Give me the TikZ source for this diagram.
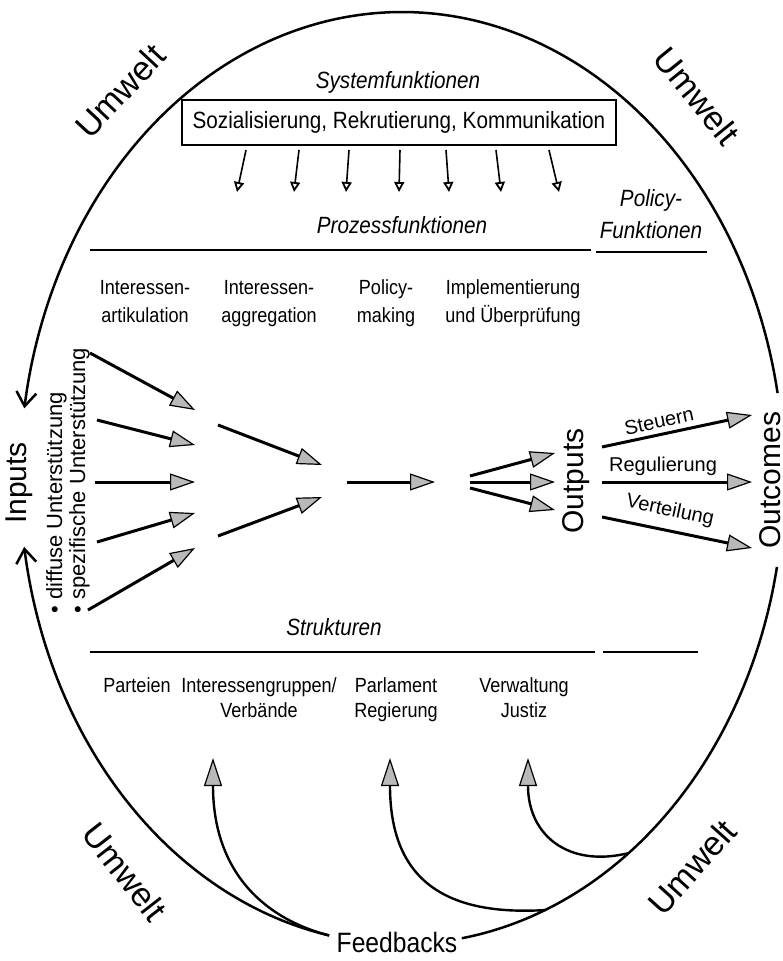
\documentclass[tikz,border=0pt]{standalone}
\usepackage{fontspec}
\setmainfont{Liberation Sans}
\newfontfamily\cond[FakeStretch=0.88]{Liberation Sans}
\usetikzlibrary{arrows.meta}
\begin{document}
\begin{tikzpicture}[x=1pt,y=-1pt,
  oval/.style={line width=2.5pt},
  fatarr/.style={line width=3pt,-{Triangle[length=25pt,width=17pt,fill=gray!55,line width=1.2pt]}},
  fbarr/.style={line width=2.4pt,-{Triangle[length=28pt,width=18pt,fill=gray!55,line width=1.2pt]}},
  smallarr/.style={line width=1.6pt,-{Triangle[open,length=10pt,width=10pt,line width=1.8pt]}},
  rule/.style={line width=1.8pt},
  big/.style={font=\fontsize{34}{36}\selectfont},
  lab/.style={font=\fontsize{30}{32}\selectfont},
  ital/.style={font=\cond\itshape\fontsize{23.5}{32}\selectfont},
  head/.style={font=\cond\fontsize{20.5}{28}\selectfont,align=center,anchor=base},
  struct/.style={font=\cond\fontsize{20.5}{25}\selectfont,align=center,anchor=base},
  flow/.style={font=\fontsize{20}{22}\selectfont},
]
\useasboundingbox (0,0) rectangle (783,961);

% ---- oval (environment boundary) ----
\draw[oval,-{Straight Barb[length=14pt,width=20pt]}] plot[domain=10.5:171.4,samples=90,smooth] ({402+382*cos(\x)},{478-466*sin(\x)});
\draw[oval,{Straight Barb[length=14pt,width=20pt]}-] plot[domain=188.5:259,samples=50,smooth] ({402+382*cos(\x)},{478-466*sin(\x)});
\draw[oval] plot[domain=-81:-11,samples=50,smooth] ({402+382*cos(\x)},{478-466*sin(\x)});

% ---- Umwelt labels ----
\node[big,rotate=47] (u1) at (120,91) {Umwelt};
\node[big,rotate=-51] (u2) at (697,96) {Umwelt};
\node[big,rotate=-52] (u3) at (125,872) {Umwelt};
\node[big,rotate=48] (u4) at (692,867) {Umwelt};

% ---- system functions ----
\node[ital] (sysf) at (398,82) {Systemfunktionen};
\node[draw,line width=1.8pt,minimum width=434pt,minimum height=45pt,inner sep=0pt,
      font=\cond\fontsize{23.5}{26}\selectfont] (box) at (399,122.5) {Sozialisierung, Rekrutierung, Kommunikation};

\coordinate (s1a) at (246,150); \coordinate (s1b) at (237,192);
\coordinate (s2a) at (299,150); \coordinate (s2b) at (294,192);
\coordinate (s3a) at (349,150); \coordinate (s3b) at (346,192);
\coordinate (s4a) at (400,150); \coordinate (s4b) at (399,192);
\coordinate (s5a) at (446,150); \coordinate (s5b) at (449,192);
\coordinate (s6a) at (496,150); \coordinate (s6b) at (501,192);
\coordinate (s7a) at (549,150); \coordinate (s7b) at (559,192);
\foreach \i in {1,...,7} {\draw[smallarr] (s\i a) -- (s\i b);}

\node[ital] (proz) at (402,225) {Prozessfunktionen};
\node[ital,align=center] (polf) at (651,214) {Policy-\\Funktionen};
\draw[rule] (90,250) -- (591,250);
\draw[rule] (596,252) -- (707,252);

\node[head] (h1) at (145,322) {Interessen-\\artikulation};
\node[head] (h2) at (269,322) {Interessen-\\aggregation};
\node[head] (h3) at (386,322) {Policy-\\making};
\node[head] (h4) at (513,322) {Implementierung\\und Überprüfung};

% ---- inputs ----
\node[lab,rotate=90] (inputs) at (19,483) {Inputs};
\node[font=\fontsize{22}{24}\selectfont,rotate=90,anchor=base west] (diff) at (62,617) {\textbullet\ diffuse Unterstützung};
\node[font=\fontsize{22}{24}\selectfont,rotate=90,anchor=base west] (spez) at (85,617) {\textbullet\ spezifische Unterstützung};

\coordinate (i1a) at (90,353);  \coordinate (i1b) at (195,410);
\coordinate (i2a) at (97,420);  \coordinate (i2b) at (195,445);
\coordinate (i3a) at (95,482);  \coordinate (i3b) at (195,482);
\coordinate (i4a) at (97,542);  \coordinate (i4b) at (195,513);
\coordinate (i5a) at (88,610);  \coordinate (i5b) at (195,548);
\foreach \i in {1,...,5} {\draw[fatarr] (i\i a) -- (i\i b);}

\coordinate (g1a) at (218,425); \coordinate (g1b) at (322,465);
\coordinate (g2a) at (218,536); \coordinate (g2b) at (322,497);
\draw[fatarr] (g1a) -- (g1b);
\draw[fatarr] (g2a) -- (g2b);

\coordinate (pma) at (347,482); \coordinate (pmb) at (435,482);
\draw[fatarr] (pma) -- (pmb);

\coordinate (f1a) at (470,476); \coordinate (f1b) at (555,453);
\coordinate (f2a) at (470,482); \coordinate (f2b) at (555,482);
\coordinate (f3a) at (470,488); \coordinate (f3b) at (555,510);
\draw[fatarr] (f1a) -- (f1b);
\draw[fatarr] (f2a) -- (f2b);
\draw[fatarr] (f3a) -- (f3b);

\node[lab,rotate=90] (outputs) at (576,481) {Outputs};
\node[lab,rotate=90] (outcomes) at (770,480) {Outcomes};

\coordinate (o1a) at (602,447); \coordinate (o1b) at (752,415);
\coordinate (o2a) at (602,482); \coordinate (o2b) at (752,482);
\coordinate (o3a) at (602,517); \coordinate (o3b) at (752,548);
\draw[fatarr] (o1a) -- (o1b);
\draw[fatarr] (o2a) -- (o2b);
\draw[fatarr] (o3a) -- (o3b);
\node[flow,rotate=12] (steu) at (659,421) {Steuern};
\node[flow] (reg) at (663,466) {Regulierung};
\node[flow,rotate=-12] (vert) at (670,511) {Verteilung};

% ---- structures ----
\node[ital] (strk) at (334,627) {Strukturen};
\draw[rule] (90,652) -- (595,652);
\draw[rule] (603,652) -- (698,652);
\node[struct] (p1) at (137,692) {Parteien};
\node[struct] (p2) at (259,717) {Interessengruppen/\\Verbände};
\node[struct] (p3) at (396,717) {Parlament\\Regierung};
\node[struct] (p4) at (524,717) {Verwaltung\\Justiz};

% ---- feedbacks ----
\node[font=\cond\fontsize{28}{30}\selectfont] (fb) at (397,942) {Feedbacks};
\coordinate (fb1s) at ({402+382*cos(259)},{478-466*sin(259)});
\coordinate (fb2s) at ({402+382*cos(-68)},{478-466*sin(-68)});
\coordinate (fb3s) at ({402+382*cos(-53.6)},{478-466*sin(-53.6)});
\coordinate (fb1t) at (213,758);
\coordinate (fb2t) at (390,758);
\coordinate (fb3t) at (528,758);
\draw[fbarr] (fb1s) .. controls (262,918) and (213,870) .. (fb1t);
\draw[fbarr] (fb2s) .. controls (445,916) and (390,880) .. (fb2t);
\draw[fbarr] (fb3s) .. controls (568,868) and (528,835) .. (fb3t);
\end{tikzpicture}
\end{document}
